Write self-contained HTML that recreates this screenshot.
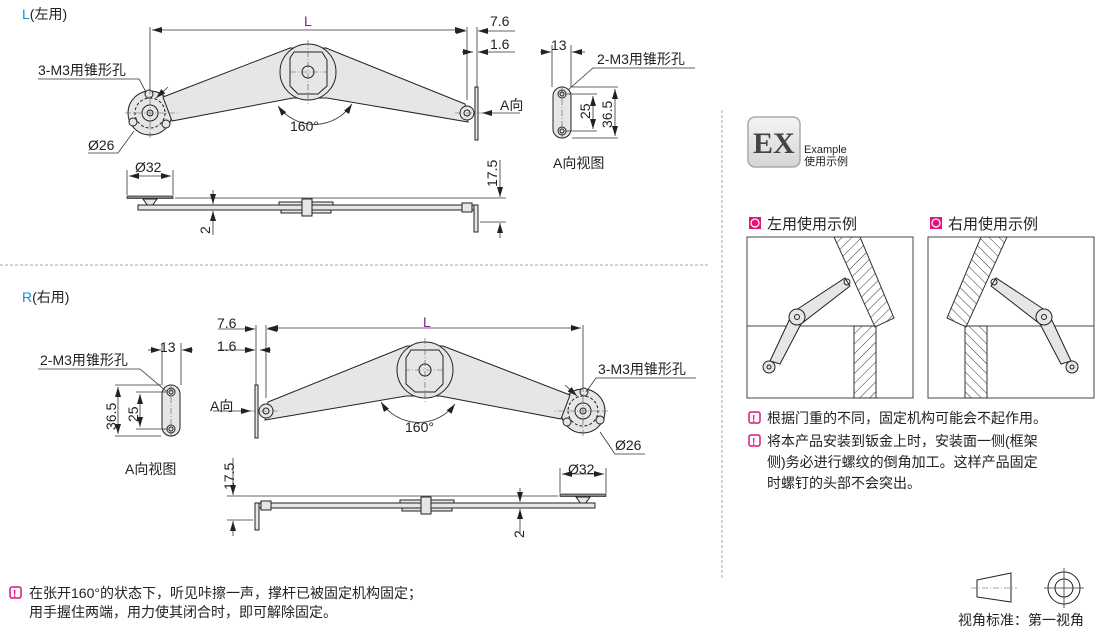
<!DOCTYPE html>
<html><head><meta charset="utf-8"><style>
body{margin:0;background:#fff;width:1110px;height:630px;overflow:hidden}
svg{display:block}
text{font-family:"Liberation Sans","Noto Sans CJK SC",sans-serif;font-size:14px;fill:#222}
.t{stroke:#333;stroke-width:0.8;fill:none}
.c{stroke:#555;stroke-width:0.6;fill:none;stroke-dasharray:6 2 1 2}
.p{fill:#e6e6e6;stroke:#222;stroke-width:1}
.k{stroke:#222;stroke-width:1;fill:none}
</style></head><body>
<svg width="1110" height="630" viewBox="0 0 1110 630">
<defs>
<marker id="a" viewBox="0 0 10 6" refX="10" refY="3" markerWidth="10" markerHeight="6" orient="auto-start-reverse" markerUnits="userSpaceOnUse"><path d="M0 0L10 3L0 6z" fill="#222"/></marker>
<pattern id="h" width="7" height="7" patternUnits="userSpaceOnUse" patternTransform="rotate(45)"><line x1="0" y1="0" x2="0" y2="7" stroke="#333" stroke-width="1"/></pattern>
<g id="mech">
 <line class="t" x1="150" y1="27" x2="150" y2="110"/>
 <line class="t" x1="467" y1="27" x2="467" y2="100"/>
 <line class="t" x1="477" y1="27" x2="477" y2="87"/>
 <line class="t" x1="152" y1="30" x2="465" y2="30" marker-start="url(#a)" marker-end="url(#a)"/>
 <line class="t" x1="455" y1="31" x2="466" y2="31" marker-end="url(#a)"/>
 <line class="t" x1="515" y1="31" x2="478" y2="31" marker-end="url(#a)"/>
 <line class="t" x1="462" y1="52" x2="473" y2="52" marker-end="url(#a)"/>
 <line class="t" x1="515" y1="52" x2="478" y2="52" marker-end="url(#a)"/>
 <circle class="p" cx="150" cy="113" r="22"/>
 <circle class="k" cx="150" cy="113" r="15" stroke-dasharray="3 2"/>
 <path class="p" d="M163 97 L290 48 L326 48 L465 104 L468 122 L327 98 L293 98 L172 121 Z"/>
 <circle class="p" cx="308" cy="72" r="28"/>
 <path class="p" d="M294 52 L322 52 L327 60 L327 86 L318 94 L298 94 L290 86 L290 58 Z"/>
 <circle class="k" cx="308" cy="72" r="6"/>
 <circle class="p" cx="150" cy="113" r="8"/>
 <circle class="k" cx="150" cy="113" r="3"/>
 <circle class="p" cx="149" cy="94" r="4"/>
 <circle class="p" cx="133" cy="122" r="4"/>
 <circle class="p" cx="166" cy="124" r="4"/>
 <rect class="p" x="475" y="87" width="3" height="53"/>
 <circle class="p" cx="467" cy="113" r="7"/>
 <circle class="k" cx="467" cy="113" r="3"/>
 <line class="c" x1="125" y1="113" x2="178" y2="113"/>
 <line class="c" x1="150" y1="88" x2="150" y2="140"/>
 <line class="c" x1="308" y1="40" x2="308" y2="104"/>
 <line class="c" x1="290" y1="72" x2="326" y2="72"/>
 <line class="c" x1="455" y1="113" x2="482" y2="113"/>
 <path class="t" d="M278 106 A45 45 0 0 0 352 104" marker-start="url(#a)" marker-end="url(#a)"/>
 <line class="t" x1="520" y1="113" x2="482" y2="113" marker-end="url(#a)"/>
 <line class="t" x1="168" y1="87" x2="156" y2="98" marker-end="url(#a)"/>
 <rect x="127" y="196" width="46" height="2.5" fill="#888" stroke="#222" stroke-width="0.7"/>
 <path class="p" d="M143 199 L157 199 L152 206 L148 206 Z"/>
 <rect class="p" x="138" y="205" width="339" height="5"/>
 <rect class="p" x="279" y="202" width="54" height="3"/>
 <rect class="p" x="281" y="210" width="50" height="3"/>
 <rect class="p" x="302" y="199" width="10" height="17"/>
 <rect class="p" x="474" y="205" width="4" height="27"/>
 <rect class="p" x="462" y="203" width="10" height="9"/>
 <line class="t" x1="127" y1="170" x2="127" y2="195"/>
 <line class="t" x1="173" y1="170" x2="173" y2="195"/>
 <line class="t" x1="129" y1="176" x2="171" y2="176" marker-start="url(#a)" marker-end="url(#a)"/>
 <line class="t" x1="175" y1="198" x2="506" y2="198"/>
 <line class="t" x1="480" y1="222" x2="506" y2="222"/>
 <line class="t" x1="500" y1="160" x2="500" y2="197" marker-end="url(#a)"/>
 <line class="t" x1="500" y1="238" x2="500" y2="223" marker-end="url(#a)"/>
 <line class="t" x1="213" y1="190" x2="213" y2="204" marker-end="url(#a)"/>
 <line class="t" x1="213" y1="235" x2="213" y2="211" marker-end="url(#a)"/>
</g>
<g id="av">
 <rect class="p" x="553" y="87" width="18" height="51" rx="9"/>
 <circle class="k" cx="562" cy="94" r="4"/><circle class="k" cx="562" cy="94" r="2"/>
 <circle class="k" cx="562" cy="131" r="4"/><circle class="k" cx="562" cy="131" r="2"/>
 <line class="c" x1="562" y1="88" x2="562" y2="138"/>
 <line class="t" x1="552" y1="45" x2="552" y2="87"/>
 <line class="t" x1="571" y1="45" x2="571" y2="87"/>
 <line class="t" x1="540" y1="52" x2="551" y2="52" marker-end="url(#a)"/>
 <line class="t" x1="585" y1="52" x2="572" y2="52" marker-end="url(#a)"/>
 <line class="t" x1="566" y1="94" x2="597" y2="94"/>
 <line class="t" x1="566" y1="131" x2="597" y2="131"/>
 <line class="t" x1="572" y1="87" x2="618" y2="87"/>
 <line class="t" x1="572" y1="138" x2="618" y2="138"/>
 <line class="t" x1="593" y1="96" x2="593" y2="129" marker-start="url(#a)" marker-end="url(#a)"/>
 <line class="t" x1="615" y1="89" x2="615" y2="136" marker-start="url(#a)" marker-end="url(#a)"/>
</g>
</defs>

<text x="22" y="19"><tspan style="fill:#1a8ccc">L</tspan>(左用)</text>
<use href="#mech"/>
<use href="#av"/>
<text x="304" y="26" style="fill:#8b1a8b">L</text>
<text x="490" y="26">7.6</text>
<text x="490" y="49">1.6</text>
<text x="38" y="75">3-M3用锥形孔</text>
<polyline class="t" points="38,79 139,79 146,92"/>
<text x="88" y="150">Ø26</text>
<polyline class="t" points="88,153 118,153 134,131"/>
<text x="500" y="110">A向</text>
<text x="290" y="131">160°</text>
<text x="135" y="172">Ø32</text>
<text transform="translate(497,187) rotate(-90)">17.5</text>
<text transform="translate(210,234) rotate(-90)">2</text>
<text x="551" y="50">13</text>
<text x="597" y="64">2-M3用锥形孔</text>
<polyline class="t" points="695,68 593,68 568,90"/>
<text transform="translate(590,119) rotate(-90)">25</text>
<text transform="translate(612,128) rotate(-90)">36.5</text>
<text x="553" y="168">A向视图</text>

<line x1="0" y1="265" x2="708" y2="265" stroke="#aaa" stroke-dasharray="3 2"/>
<line x1="722" y1="110" x2="722" y2="580" stroke="#aaa" stroke-dasharray="3 2"/>

<text x="22" y="302"><tspan style="fill:#1a8ccc">R</tspan>(右用)</text>
<use href="#mech" transform="translate(733,298) scale(-1,1)"/>
<use href="#av" transform="translate(733,298) scale(-1,1)"/>
<text x="423" y="327" style="fill:#8b1a8b">L</text>
<text x="217" y="328">7.6</text>
<text x="217" y="351">1.6</text>
<text x="598" y="374">3-M3用锥形孔</text>
<polyline class="t" points="696,378 596,378 586,392"/>
<text x="615" y="450">Ø26</text>
<polyline class="t" points="645,454 615,454 600,432"/>
<text x="210" y="411">A向</text>
<text x="405" y="432">160°</text>
<text x="568" y="474">Ø32</text>
<text transform="translate(234,490) rotate(-90)">17.5</text>
<text transform="translate(524,538) rotate(-90)">2</text>
<text x="160" y="352">13</text>
<text x="40" y="365">2-M3用锥形孔</text>
<polyline class="t" points="38,369 140,369 166,391"/>
<text transform="translate(138,422) rotate(-90)">25</text>
<text transform="translate(116,430) rotate(-90)">36.5</text>
<text x="125" y="474">A向视图</text>

<defs><linearGradient id="g" x1="0" y1="0" x2="0" y2="1"><stop offset="0" stop-color="#f4f4f4"/><stop offset="1" stop-color="#d6d6d6"/></linearGradient></defs>
<rect x="748" y="117" width="52" height="50" rx="7" fill="url(#g)" stroke="#aaa" stroke-width="1.5"/>
<text x="753" y="153" style="font-family:'Liberation Serif',serif;font-size:30px;fill:#444;font-weight:bold">EX</text>
<text x="804" y="153" style="font-size:11px">Example</text>
<text x="804" y="165" style="font-size:11px">使用示例</text>

<rect x="749" y="217" width="12" height="12" fill="#e0147a"/><circle cx="755" cy="223" r="4" fill="none" stroke="#fff" stroke-width="1.2"/>
<text x="767" y="229" style="font-size:15px">左用使用示例</text>
<rect x="930" y="217" width="12" height="12" fill="#e0147a"/><circle cx="936" cy="223" r="4" fill="none" stroke="#fff" stroke-width="1.2"/>
<text x="948" y="229" style="font-size:15px">右用使用示例</text>

<g>
<rect x="747" y="237" width="166" height="161" fill="none" stroke="#444"/>
<line x1="747" y1="326" x2="876" y2="326" stroke="#444"/>
<rect x="854" y="326" width="22" height="72" fill="url(#h)" stroke="#333"/>
<polygon points="834,237 860,237 894,318 875,327" fill="url(#h)" stroke="#333"/>
<path class="p" d="M793 312 L845 278 L850 286 L801 324 L780 364 L770 361 Z"/>
<circle class="p" cx="797" cy="317" r="8"/><circle class="k" cx="797" cy="317" r="2.5"/>
<circle class="k" cx="847" cy="282" r="3"/>
<circle class="p" cx="769" cy="367" r="6"/><circle class="k" cx="769" cy="367" r="2"/>
</g>
<g transform="translate(1841,0) scale(-1,1)">
<rect x="747" y="237" width="166" height="161" fill="none" stroke="#444"/>
<line x1="747" y1="326" x2="876" y2="326" stroke="#444"/>
<rect x="854" y="326" width="22" height="72" fill="url(#h)" stroke="#333"/>
<polygon points="834,237 860,237 894,318 875,327" fill="url(#h)" stroke="#333"/>
<path class="p" d="M793 312 L845 278 L850 286 L801 324 L780 364 L770 361 Z"/>
<circle class="p" cx="797" cy="317" r="8"/><circle class="k" cx="797" cy="317" r="2.5"/>
<circle class="k" cx="847" cy="282" r="3"/>
<circle class="p" cx="769" cy="367" r="6"/><circle class="k" cx="769" cy="367" r="2"/>
</g>

<g style="font-size:14px">
<rect x="749" y="412" width="11" height="11" rx="2" fill="none" stroke="#e0147a" stroke-width="1.5"/><text x="752" y="422" style="font-size:10px;fill:#e0147a;font-weight:bold">!</text>
<text x="767" y="423">根据门重的不同，固定机构可能会不起作用。</text>
<rect x="749" y="435" width="11" height="11" rx="2" fill="none" stroke="#e0147a" stroke-width="1.5"/><text x="752" y="445" style="font-size:10px;fill:#e0147a;font-weight:bold">!</text>
<text x="767" y="446">将本产品安装到钣金上时，安装面一侧(框架</text>
<text x="767" y="467">侧)务必进行螺纹的倒角加工。这样产品固定</text>
<text x="767" y="488">时螺钉的头部不会突出。</text>
<rect x="10" y="587" width="11" height="11" rx="2" fill="none" stroke="#e0147a" stroke-width="1.5"/><text x="13" y="597" style="font-size:10px;fill:#e0147a;font-weight:bold">!</text>
<text x="29" y="598">在张开160°的状态下，听见咔擦一声，撑杆已被固定机构固定；</text>
<text x="29" y="617">用手握住两端，用力使其闭合时，即可解除固定。</text>
</g>

<polygon class="k" points="977,580 1011,573 1011,602 977,597"/>
<line class="c" x1="971" y1="588" x2="1017" y2="588"/>
<circle class="k" cx="1064" cy="588" r="16"/><circle class="k" cx="1064" cy="588" r="9"/>
<line class="t" x1="1044" y1="588" x2="1084" y2="588"/><line class="t" x1="1064" y1="568" x2="1064" y2="608"/>
<text x="958" y="625">视角标准：第一视角</text>
</svg>
</body></html>
